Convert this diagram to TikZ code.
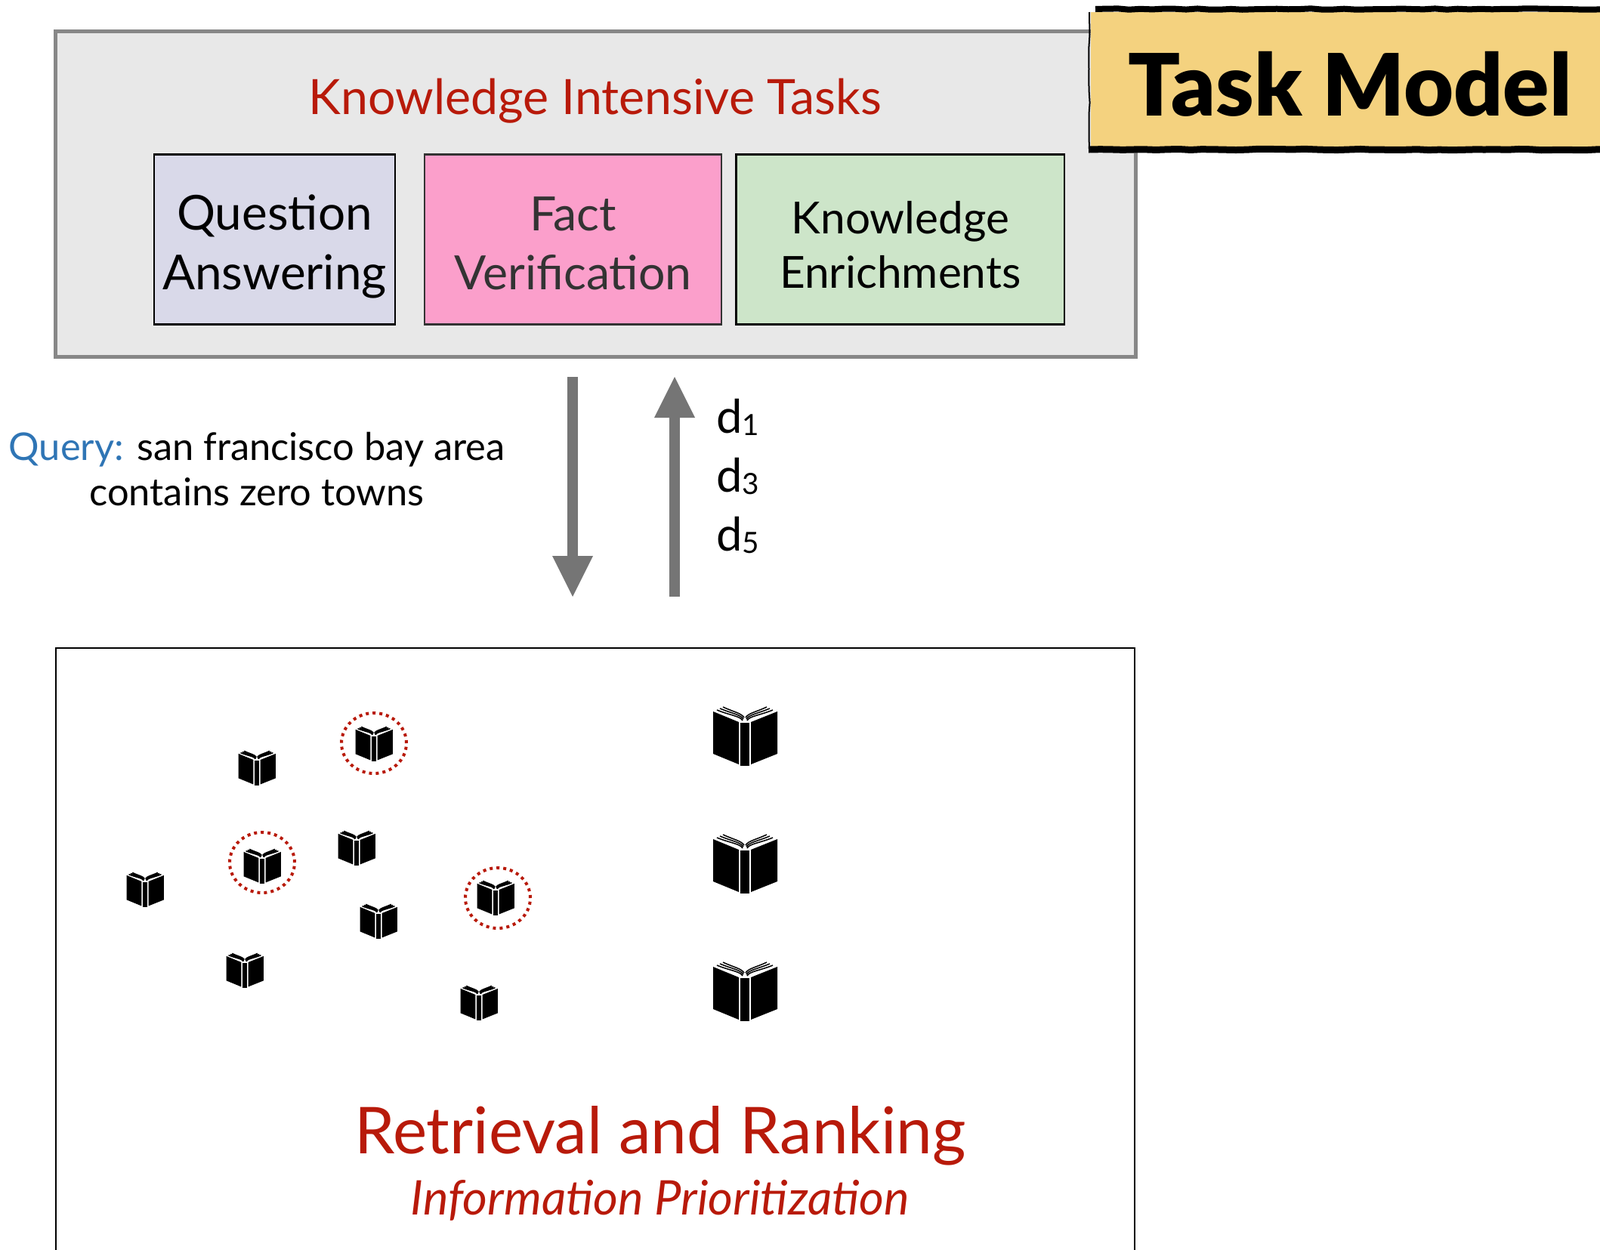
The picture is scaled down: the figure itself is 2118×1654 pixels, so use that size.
\documentclass[tikz,border=0pt]{standalone}
\usepackage{fontspec}
\setmainfont{Lato}
\newfontface\lblack{Lato Black}
\usetikzlibrary{arrows.meta,positioning,shapes.geometric,decorations.pathmorphing}
\definecolor{headred}{HTML}{B81A0A}
\definecolor{queryblue}{HTML}{2F75B5}
\definecolor{arrowgray}{HTML}{757575}
\definecolor{qafill}{RGB}{217,217,233}
\definecolor{factfill}{RGB}{251,159,203}
\definecolor{enrichfill}{RGB}{205,229,201}
\definecolor{bannerfill}{RGB}{244,210,127}
\newcommand{\fsize}[1]{\fontsize{#1}{1.2\dimexpr#1pt\relax}\selectfont}
\newcommand{\docsub}[1]{\raisebox{-0.07cm}{\fsize{22}#1}}
\newcommand{\toppad}[1]{\rule{0pt}{#1}}

\begin{document}
\begin{tikzpicture}[x=0.02cm,y=-0.02cm,>={Triangle[length=1.08cm,width=1.08cm,line width=0pt]}]
        \tikzset{panel/.style={draw=black!47,line width=0.1cm,fill=black!9,minimum width=28.62cm,minimum height=8.64cm},
        task/.style={draw=black,line width=0.045cm,align=center,minimum height=4.5cm,inner sep=0pt},
        head/.style={text=headred,inner sep=0pt},
        flow/.style={draw=arrowgray,line width=0.27cm},
        docid/.style={anchor=base west,inner sep=0pt,font=\fsize{35}},
        hit/.style={draw=headred,ellipse,line width=0.08cm,dash pattern=on 0.08cm off 0.1cm,minimum width=1.72cm,minimum height=1.6cm,inner sep=0pt},
        brush/.style={draw=black,decorate,decoration={random steps,segment length=0.3cm,amplitude=0.015cm}},
        book/.pic={
            \fill (-42,-33) -- (-8,-19) -- (-8,37) -- (-42,23) -- cycle;
            \fill (8,-19) -- (43,-33) -- (43,23) -- (8,37) -- cycle;
            \fill (-6,-18) rectangle (6,39);
            \draw[line width=0.03cm] (-37,-35) .. controls (-20,-28) and (-6,-27) .. (-3,-21)
                (-33,-37) .. controls (-16,-30) and (-6,-29) .. (-2,-23)
                (-29,-39) .. controls (-14,-32) and (-5,-31) .. (-1,-25)
                (37,-35) .. controls (20,-28) and (6,-27) .. (3,-21)
                (33,-37) .. controls (16,-30) and (6,-29) .. (2,-23)
                (29,-39) .. controls (14,-32) and (5,-31) .. (1,-25);
        },
        }
        \path[use as bounding box,clip] (0,0) rectangle (2118,1654);

        \node [panel] (tasks) at (788.5,257) {};
        \node [head,font=\fsize{36.7}] (tasks_title) at (788,134) {Knowledge Intensive Tasks};
        \node [task,fill=qafill,minimum width=6.38cm,font=\fsize{36.3}] (qa) at (363.5,317) {\toppad{1.33cm}Question\\[0.05cm]Answering};
        \node [task,fill=factfill,draw=black!80,text=black!80,minimum width=7.86cm,font=\fsize{35.6},right=0.74cm of qa] (fact) {\toppad{1.1cm}Fact\\[0.05cm]Verification};
        \node [task,fill=enrichfill,minimum width=8.7cm,font=\fsize{33.3},right=0.34cm of fact] (enrich) {\toppad{1.15cm}Knowledge\\[0.02cm]Enrichments};

        \node [fill=bannerfill,minimum width=13.74cm,minimum height=3.56cm,inner sep=0pt] (banner) at (1787,105) {};
        \node [anchor=base,inner sep=0pt,font=\fsize{64.8}\lblack] (banner_text) at (1787,153) {Task Model};

        \coordinate (down_start) at (758,499);
        \coordinate (down_end) at (758,790);
        \coordinate (up_start) at (893,790);
        \coordinate (up_end) at (893,499);

        \node [align=center,inner sep=0pt,font=\fsize{28.8}] (query) at (340,621) {\textcolor{queryblue}{Query:} san francisco bay area\\contains zero towns};
        \node [docid] (d1) at (948,573) {d\docsub{1}};
        \node [docid] (d3) at (948,651) {d\docsub{3}};
        \node [docid] (d5) at (948,729) {d\docsub{5}};

        \node [draw=black,line width=0.05cm,minimum width=28.56cm,minimum height=16.84cm] (ranking) at (788,1279) {};

        \pic [scale=0.58] (small1) at (340,1017) {book};
        \pic [scale=0.58] (small2) at (495,985) {book};
        \pic [scale=0.58] (small3) at (347,1147) {book};
        \pic [scale=0.58] (small4) at (472,1123) {book};
        \pic [scale=0.58] (small5) at (192,1178) {book};
        \pic [scale=0.58] (small6) at (501,1220) {book};
        \pic [scale=0.58] (small7) at (656,1189) {book};
        \pic [scale=0.58] (small8) at (324,1285) {book};
        \pic [scale=0.58] (small9) at (634,1328) {book};
        \node [hit] (hit1) at (495,984) {};
        \node [hit] (hit2) at (347,1142) {};
        \node [hit] (hit3) at (659,1189) {};

        \pic (big1) at (986,975) {book};
        \pic (big2) at (986,1144) {book};
        \pic (big3) at (986,1313) {book};

        \node [head,font=\fsize{48.7}] (ranking_title) at (874,1504) {Retrieval and Ranking};
        \node [head,font=\fsize{36}\itshape] (ranking_sub) at (874,1589) {Information Prioritization};

%%% paths
        \draw[flow,->] (down_start) -- (down_end);
        \draw[flow,->] (up_start) -- (up_end);
        \draw[brush,line width=0.16cm] (1450,12) -- (2130,12);
        \draw[brush,line width=0.18cm] (1441,198) -- (2130,198);
        \draw[brush,line width=0.04cm] (1442,16) -- (1442,198);
    \end{tikzpicture}
\end{document}
